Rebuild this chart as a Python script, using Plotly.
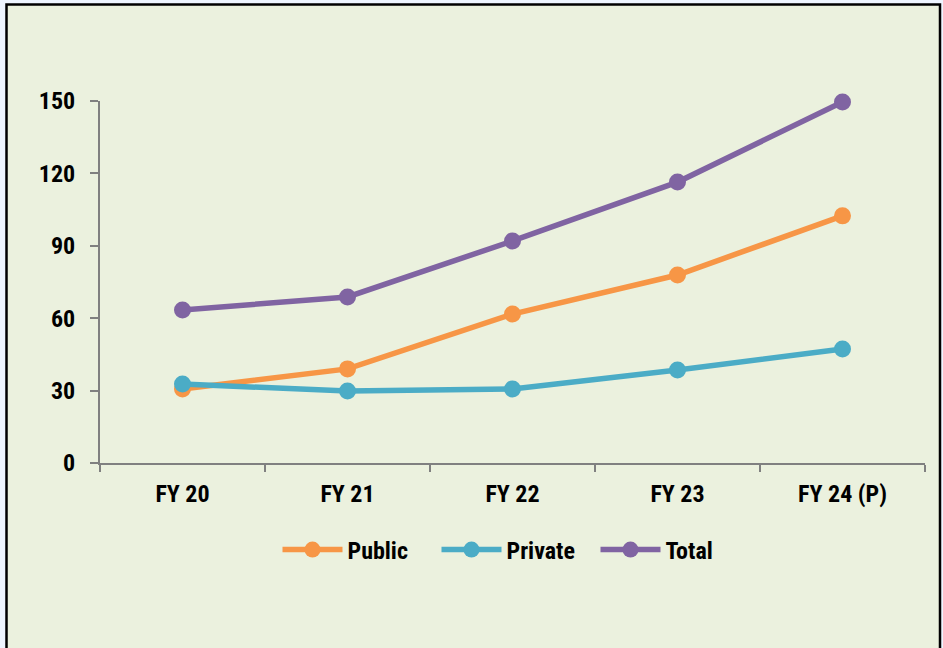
import plotly.graph_objects as go

categories = ["FY 20", "FY 21", "FY 22", "FY 23", "FY 24 (P)"]
public = [30.7, 39.0, 61.7, 77.9, 102.4]
private = [32.7, 29.8, 30.7, 38.5, 47.2]
total = [63.4, 68.8, 92.0, 116.4, 149.6]
y_ticks = [0, 30, 60, 90, 120, 150]

series = [("Public", public, "#F79646"), ("Private", private, "#4BACC6"), ("Total", total, "#8064A2")]

FONT = "Liberation Sans Narrow, Arial Narrow, Roboto Condensed, Liberation Sans, Arial, sans-serif"
FS = 24

fig = go.Figure()
for name, vals, col in series:
    fig.add_trace(go.Scatter(
        x=categories, y=vals, name=name, mode="lines+markers", cliponaxis=False,
        line=dict(color=col, width=5.5), marker=dict(color=col, size=17),
    ))

L, R, T, B = 100, 18, 101, 185
W, H = 943, 648
pw, ph = W - L - R, H - T - B

def px_x(p):
    return (p - L) / pw

def px_y(p):
    return (H - B - p) / ph

fig.add_shape(type="rect", xref="paper", yref="paper",
              x0=px_x(6.5), x1=px_x(940), y0=px_y(652), y1=px_y(4.5),
              fillcolor="#EBF1DE", line=dict(color="black", width=2.5), layer="below")

fig.update_layout(
    width=W, height=H,
    margin=dict(l=L, r=R, t=T, b=B),
    paper_bgcolor="#EEF5FF", plot_bgcolor="rgba(0,0,0,0)",
    font=dict(family=FONT, size=FS, color="black"),
    showlegend=True,
    legend=dict(orientation="h", x=px_x(516), y=px_y(550), xanchor="center", yanchor="middle",
                font=dict(size=FS, family=FONT, weight="bold"), bgcolor="rgba(0,0,0,0)",
                itemwidth=60, tracegroupgap=0, entrywidth=84, entrywidthmode="pixels"),
)
fig.update_xaxes(
    type="category", range=[-0.5, 4.5], showgrid=False, showline=True,
    linecolor="#808080", linewidth=2, ticks="outside", tickson="boundaries",
    tickcolor="#808080", ticklen=7, tickwidth=2,
    tickfont=dict(size=FS, family=FONT, weight="bold"), ticklabelstandoff=8,
)
fig.update_yaxes(
    range=[0, 150], tickvals=y_ticks, showgrid=False, showline=True, zeroline=False,
    linecolor="#808080", linewidth=2, ticks="outside",
    tickcolor="#808080", ticklen=8, tickwidth=2,
    tickfont=dict(size=FS, family=FONT, weight="bold"), ticklabelstandoff=10,
)

fig.write_html("out.html", config={"displayModeBar": False},
               post_script="document.body.style.margin='0';")
